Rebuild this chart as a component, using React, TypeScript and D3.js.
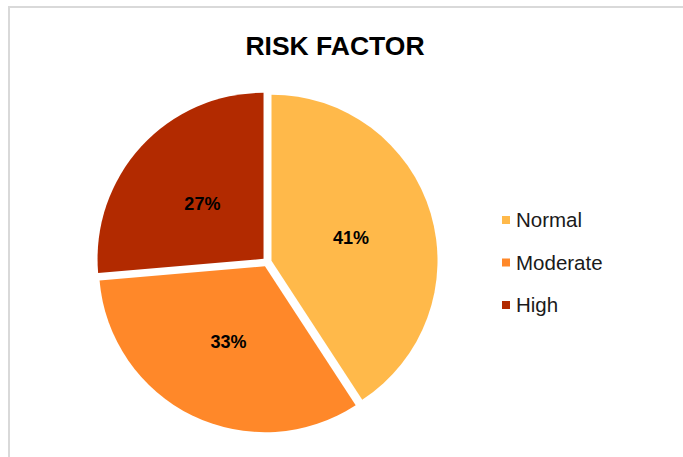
import React from "react";
import * as d3 from "d3";

const categories = ["Normal", "Moderate", "High"];
const values = [41, 33, 26.5];
const colors = ["#FFB94A", "#FF8829", "#B22A00"];
const title = "RISK FACTOR";

const W = 683;
const H = 457;
const cx = 267;
const cy = 262;
const R = 166;
const explode = 4.7;

export default function App() {
  const pie = d3
    .pie<number>()
    .sort(null)
    .startAngle(0)
    .endAngle(2 * Math.PI)(values);
  const arc = d3.arc<d3.PieArcDatum<number>>().innerRadius(0).outerRadius(R);
  const labelArc = d3.arc<d3.PieArcDatum<number>>().innerRadius(0).outerRadius(R * 1.0);

  return (
    <svg
      width={W}
      height={H}
      style={{ position: "absolute", left: 0, top: 0, background: "#fff" }}
      fontFamily="'Liberation Sans', Arial, sans-serif"
    >
      <rect x={9} y={7} width={W + 20} height={H + 20} fill="#fff" stroke="#d9d9d9" strokeWidth={2} />
      <text x={335} y={55} textAnchor="middle" fontSize={26.5} fontWeight="bold" fill="#000">
        {title}
      </text>
      <g transform={`translate(${cx},${cy})`}>
        {pie.map((d, i) => {
          const mid = (d.startAngle + d.endAngle) / 2;
          const dx = Math.sin(mid) * explode;
          const dy = -Math.cos(mid) * explode;
          const [lx, ly] = labelArc.centroid(d);
          return (
            <g key={categories[i]} transform={`translate(${dx},${dy})`}>
              <path d={arc(d) || ""} fill={colors[i]} />
              <text
                x={lx}
                y={ly + 1}
                dy="0.35em"
                textAnchor="middle"
                fontSize={18}
                fontWeight="bold"
                fill="#000"
              >
                {Math.round(d.data)}%
              </text>
            </g>
          );
        })}
      </g>
      <g>
        {categories.map((c, i) => (
          <g key={c} transform={`translate(502,${220 + i * 42.5})`}>
            <rect x={0} y={-4} width={8} height={8} fill={colors[i]} />
            <text x={14} y={0} dy="0.35em" fontSize={20.5} fill="#1a1a1a">
              {c}
            </text>
          </g>
        ))}
      </g>
    </svg>
  );
}
